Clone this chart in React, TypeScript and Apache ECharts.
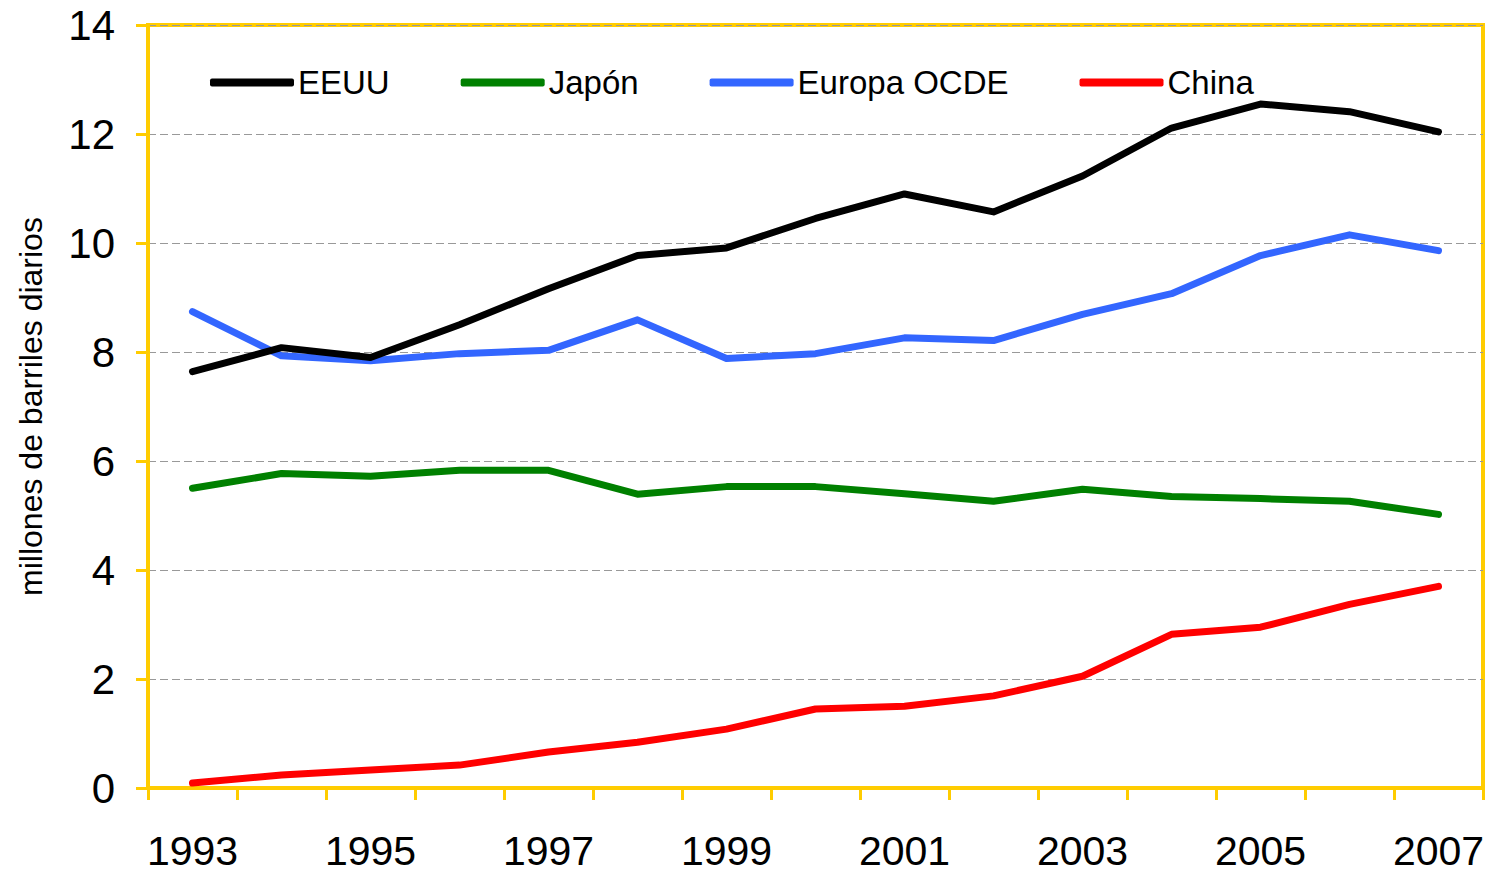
import React, { useEffect, useRef } from "react";
import * as echarts from "echarts";

const years = ["1993","1994","1995","1996","1997","1998","1999","2000","2001","2002","2003","2004","2005","2006","2007"];
const eeuu = [7.64, 8.08, 7.90, 8.50, 9.16, 9.77, 9.91, 10.45, 10.90, 10.57, 11.23, 12.11, 12.55, 12.41, 12.04];
const japon = [5.50, 5.77, 5.72, 5.83, 5.83, 5.39, 5.53, 5.53, 5.40, 5.26, 5.48, 5.35, 5.31, 5.26, 5.02];
const europa = [8.74, 7.93, 7.84, 7.97, 8.03, 8.59, 7.88, 7.97, 8.26, 8.21, 8.69, 9.07, 9.77, 10.15, 9.86];
const china = [0.09, 0.24, 0.33, 0.42, 0.66, 0.84, 1.08, 1.45, 1.50, 1.69, 2.05, 2.82, 2.95, 3.37, 3.70];

const seriesNames = ["EEUU", "Japón", "Europa OCDE", "China"];
const seriesColors = ["#000000", "#008000", "#3366FF", "#FF0000"];
const seriesData = [eeuu, japon, europa, china];

const FONT = "'Liberation Sans', Arial, sans-serif";
const YELLOW = "#FFCC00";

export default function App() {
  const ref = useRef<HTMLDivElement>(null);
  useEffect(() => {
    if (!ref.current) return;
    const chart = echarts.init(ref.current, undefined, { renderer: "svg" });
    chart.setOption({
      animation: false,
      backgroundColor: "#ffffff",
      textStyle: { fontFamily: FONT },
      legend: {
        left: 205,
        top: 61,
        itemWidth: 84,
        itemHeight: 8,
        itemGap: 71,
        icon: "roundRect",
        textStyle: { fontSize: 33, color: "#000", fontFamily: FONT, padding: [0, 0, 0, -1] },
        data: seriesNames,
      },
      grid: {
        left: 148,
        top: 25,
        right: 8,
        bottom: 85,
        show: true,
        borderColor: YELLOW,
        borderWidth: 4,
        containLabel: false,
        outerBoundsMode: "none",
      },
      xAxis: {
        type: "category",
        data: years,
        boundaryGap: true,
        axisLine: { lineStyle: { color: YELLOW, width: 4 } },
        axisTick: { show: true, interval: 0, length: 12, lineStyle: { color: YELLOW, width: 3 } },
        axisLabel: { interval: 1, margin: 42, fontSize: 41, color: "#000", fontFamily: FONT },
        splitLine: { show: false },
      },
      yAxis: {
        type: "value",
        min: 0,
        max: 14,
        interval: 2,
        name: "millones de barriles diarios",
        nameLocation: "middle",
        nameGap: 101,
        nameTextStyle: { fontSize: 32, color: "#000", fontFamily: FONT },
        axisLine: { show: true, lineStyle: { color: YELLOW, width: 4 } },
        axisTick: { show: true, length: 12, lineStyle: { color: YELLOW, width: 3 } },
        axisLabel: { margin: 33, fontSize: 42, color: "#000", fontFamily: FONT },
        splitLine: { show: true, lineStyle: { color: "#999999", type: [8, 4], width: 1 } },
      },
      series: seriesData.map((d, i) => ({
        name: seriesNames[i],
        type: "line",
        data: d,
        showSymbol: false,
        symbol: "none",
        color: seriesColors[i],
        lineStyle: { width: 7, color: seriesColors[i], cap: "round", join: "round" },
        z: 10 - i,
      })),
    });
    return () => chart.dispose();
  }, []);
  return (
    <div
      ref={ref}
      style={{ position: "absolute", left: 0, top: 0, width: 1491, height: 873 }}
    />
  );
}
